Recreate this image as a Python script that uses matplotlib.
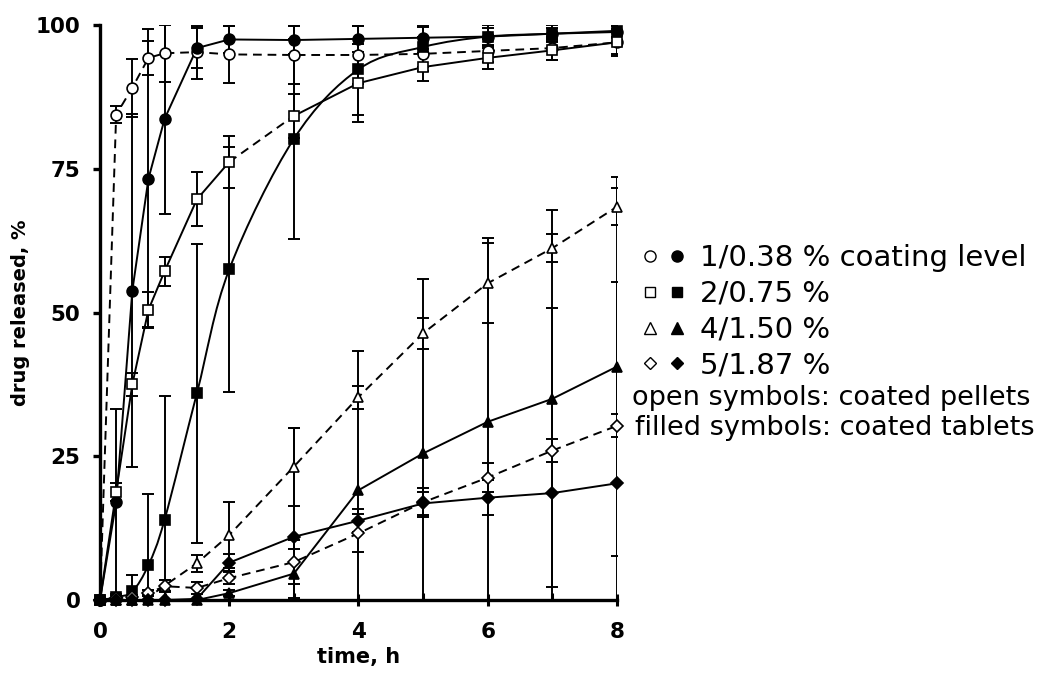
import numpy as np
import matplotlib.pyplot as plt
from matplotlib.path import Path
from matplotlib.patches import PathPatch
from matplotlib.lines import Line2D
from matplotlib.legend_handler import HandlerTuple

plt.rcParams['font.family'] = ['DejaVu Sans']

# sampling times (h)
t = np.array([0, 0.25, 0.5, 0.75, 1, 1.5, 2, 3, 4, 5, 6, 7, 8])

# open symbols = coated pellets, filled symbols = coated tablets
pel1 = [0, 84.4, 89.1, 94.3, 95.1, 95.3, 94.9, 94.8, 94.8, 95.0, 95.5, 96.0, 97.0]
pel1_err = [0, 1.5, 5, 3, 5, 4.6, 5, 5, 5, 3, 2, 2, 2]
tab1 = [0, 17.0, 53.8, 73.3, 83.7, 96.0, 97.5, 97.4, 97.6, 97.8, 98.0, 98.5, 98.8]
tab1_err = [0, 16.2, 30.7, 26, 16.5, 3.5, 2.3, 2.4, 2.2, 2, 1.5, 1, 1]

pel2 = [0, 18.8, 37.5, 50.5, 57.2, 69.7, 76.2, 84.2, 89.9, 92.7, 94.3, 95.6, 97.0]
pel2_err = [0, 1.5, 2, 3, 2.5, 4.7, 4.5, 3.8, 6.8, 2.5, 2, 1.7, 2.4]
tab2 = [0, 0.5, 1.5, 6.1, 14.0, 36.0, 57.5, 80.2, 92.3, 96.2, 98.0, 98.5, 99.0]
tab2_err = [0, 0.5, 2.8, 12.3, 21.5, 26, 21.3, 17.4, 8, 3.5, 2, 1.5, 1]

pel4 = [0, 0, 0, 0.5, 2.5, 6.4, 11.3, 23.2, 35.3, 46.4, 55.1, 61.2, 68.4]
pel4_err = [0, 0, 0, 0.5, 1, 1.5, 5.8, 6.8, 2, 2.7, 7, 2.4, 3.2]
tab4 = [0, 0, 0, 0, 0, 0, 1.2, 4.6, 19.1, 25.5, 31.0, 35.0, 40.6]
tab4_err = [0, 0, 0, 0, 0, 0, 0.5, 4.3, 24.2, 30.3, 32, 32.8, 33]

pel5 = [0, 0.3, 0.5, 1.2, 2.4, 2.1, 3.8, 6.6, 11.6, 17.0, 21.3, 26.0, 30.3]
pel5_err = [0, 0, 0.3, 0.5, 1, 1, 1, 3.8, 3.3, 2.5, 2.5, 2, 2]
tab5 = [0, 0, 0, 0, 0, 0.2, 6.5, 11.0, 13.8, 16.8, 17.8, 18.6, 20.3]
tab5_err = [0, 0, 0, 0, 0, 0, 1.5, 19, 2, 2, 3, 32.2, 35]

legend_labels = ['1/0.38 % coating level', '2/0.75 %', '4/1.50 %', '5/1.87 %']
notes = ['open symbols: coated pellets', 'filled symbols: coated tablets']

LW = 1.4
DASH = (0, (4.5, 3))


def smooth_path(x, y):
    # Excel-like smoothed line (Catmull-Rom -> cubic Bezier)
    pts = np.column_stack([x, y]).astype(float)
    n = len(pts)
    verts = [pts[0]]
    codes = [Path.MOVETO]
    for i in range(n - 1):
        p0 = pts[max(i - 1, 0)]
        p1 = pts[i]
        p2 = pts[i + 1]
        p3 = pts[min(i + 2, n - 1)]
        verts += [p1 + (p2 - p0) / 6, p2 - (p3 - p1) / 6, p2]
        codes += [Path.CURVE4] * 3
    return Path(verts, codes)


def err_bars(ax, y, err):
    y = np.asarray(y)
    err = np.asarray(err)
    m = err > 0
    ax.errorbar(t[m], y[m], yerr=err[m], fmt='none', ecolor='black',
                elinewidth=LW, capsize=4, capthick=LW, zorder=2)


def markers(ax, y, marker, ms, filled):
    ax.plot(t, y, linestyle='none', marker=marker, ms=ms,
            mfc='black' if filled else 'white', mec='black', mew=1.2,
            clip_on=False, zorder=4)


fig = plt.figure(figsize=(10.45, 6.78), dpi=100)
ax = fig.add_axes([0.0957, 0.115, 0.4947, 0.848])

for y, e in [(pel1, pel1_err), (tab1, tab1_err), (pel2, pel2_err), (tab2, tab2_err),
             (pel4, pel4_err), (tab4, tab4_err), (pel5, pel5_err), (tab5, tab5_err)]:
    err_bars(ax, y, e)

# lines
ax.plot(t, pel1, color='black', lw=LW, ls=DASH, zorder=3)
ax.plot(t, tab1, color='black', lw=LW, zorder=3)
ax.plot(t[:7], pel2[:7], color='black', lw=LW, zorder=3)
ax.plot(t[6:8], pel2[6:8], color='black', lw=LW, ls=DASH, zorder=3)
ax.plot(t[7:], pel2[7:], color='black', lw=LW, zorder=3)
ax.add_patch(PathPatch(smooth_path(t, tab2), fill=False, edgecolor='black', lw=LW, zorder=3))
ax.plot(t, pel4, color='black', lw=LW, ls=DASH, zorder=3)
ax.plot(t, tab4, color='black', lw=LW, zorder=3)
ax.plot(t, pel5, color='black', lw=LW, ls=DASH, zorder=3)
ax.plot(t, tab5, color='black', lw=LW, zorder=3)

markers(ax, pel1, 'o', 7.8, False)
markers(ax, tab1, 'o', 7.8, True)
markers(ax, pel2, 's', 6.8, False)
markers(ax, tab2, 's', 6.8, True)
markers(ax, pel4, '^', 7.8, False)
markers(ax, tab4, '^', 7.8, True)
markers(ax, pel5, 'D', 6, False)
markers(ax, tab5, 'D', 6, True)

ax.set_xlim(0, 8)
ax.set_ylim(0, 100)
for s in ['top', 'right']:
    ax.spines[s].set_visible(False)
for s in ['left', 'bottom']:
    ax.spines[s].set_linewidth(2.4)
ax.set_xticks([0, 2, 4, 6, 8])
ax.set_xticks([1, 3, 5, 7], minor=True)
ax.set_yticks([0, 25, 50, 75, 100])
ax.tick_params(axis='x', which='major', direction='inout', length=9, width=2.2,
               labelsize=15.5, pad=11)
ax.tick_params(axis='x', which='minor', direction='in', length=5, width=2.2)
ax.tick_params(axis='y', direction='out', length=5, width=2.4, labelsize=15.5, pad=9)
for lab in ax.get_xticklabels() + ax.get_yticklabels():
    lab.set_fontweight('bold')
ax.set_xlabel('time, h', fontsize=15, fontweight='bold', labelpad=4)
ax.set_ylabel('drug released, %', fontsize=14, fontweight='bold', labelpad=4)

# legend: open / filled symbol pairs
mk = ['o', 's', '^', 'D']
sz = [8, 7.5, 8, 6.5]
handles = []
for m, s in zip(mk, sz):
    h_open = Line2D([], [], ls='none', marker=m, ms=s, mfc='white', mec='black', mew=1)
    h_fill = Line2D([], [], ls='none', marker=m, ms=s, mfc='black', mec='black', mew=1)
    handles.append((h_open, h_fill))
fig.legend(handles, legend_labels, handler_map={tuple: HandlerTuple(ndivide=None, pad=0.25)},
           loc='upper left', bbox_to_anchor=(640 / 1045, 1 - 244 / 678), frameon=False,
           fontsize=21, handlelength=1.6, handletextpad=0.45, labelspacing=0.27,
           borderpad=0, borderaxespad=0)

fig.text(632 / 1045, 1 - 398 / 678, notes[0], fontsize=19.5, va='center', ha='left')
fig.text(635 / 1045, 1 - 428 / 678, notes[1], fontsize=19.5, va='center', ha='left')

fig.savefig('out.png', dpi=100)
